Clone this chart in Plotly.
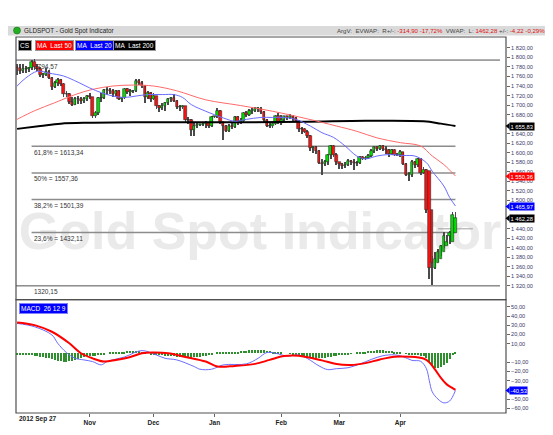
import plotly.graph_objects as go
import pandas as pd

# ---------------- data ----------------
dates = pd.bdate_range("2012-09-27", "2013-04-26")  # 152 sessions

opens = [1779,1777,1772,1776,1775,1777,1791,1781,1775,1764,1764,1769,1756,1737,1746,1752,1744,1724,1723,1707,
         1701,1712,1712,1708,1712,1719,1716,1676,1684,1715,1715,1731,1731,1730,1724,1730,1713,1714,1733,1727,
         1729,1729,1751,1746,1741,1716,1726,1713,1719,1697,1694,1699,1704,1712,1715,1708,1696,1696,1697,1669,
         1668,1647,1657,1659,1659,1661,1662,1656,1675,1676,1688,1664,1656,1646,1656,1654,1675,1662,1667,1683,
         1680,1688,1688,1692,1692,1685,1668,1656,1656,1661,1678,1662,1668,1676,1673,1677,1672,1667,1649,1649,
         1644,1635,1609,1611,1603,1578,1577,1581,1595,1614,1596,1580,1576,1573,1575,1583,1580,1578,1578,1591,
         1587,1589,1592,1604,1612,1608,1614,1607,1605,1597,1605,1596,1595,1601,1576,1554,1554,1580,1574,1586,
         1557,1564,1561,1480,1358,1368,1377,1392,1403,1424,1412,1431]
highs = [1787,1786,1786,1782,1781,1795,1796,1786,1779,1768,1777,1774,1758,1750,1756,1755,1746,1729,1726,1718,
         1718,1719,1716,1716,1722,1726,1717,1688,1718,1725,1733,1739,1736,1733,1731,1731,1716,1736,1736,1734,
         1732,1754,1755,1751,1743,1729,1728,1726,1720,1700,1704,1707,1714,1718,1724,1711,1700,1700,1699,1675,
         1670,1662,1663,1661,1665,1667,1664,1677,1678,1694,1690,1665,1658,1660,1662,1678,1678,1673,1685,1687,
         1692,1693,1695,1696,1695,1687,1671,1662,1664,1680,1683,1680,1678,1678,1681,1680,1674,1668,1654,1651,
         1647,1638,1615,1614,1605,1586,1585,1598,1616,1616,1600,1581,1578,1580,1586,1585,1586,1582,1592,1594,
         1593,1598,1608,1614,1614,1616,1617,1613,1607,1608,1607,1599,1606,1602,1578,1560,1584,1583,1588,1589,
         1569,1566,1495,1383,1392,1397,1407,1434,1428,1435,1476,1476]
lows = [1763,1766,1768,1768,1769,1773,1773,1771,1759,1757,1761,1754,1732,1735,1741,1740,1717,1716,1702,1698,
        1700,1702,1703,1705,1708,1712,1672,1672,1680,1707,1713,1722,1724,1718,1720,1711,1707,1713,1723,1720,
        1726,1727,1742,1736,1705,1712,1707,1710,1692,1685,1690,1688,1700,1706,1706,1692,1688,1692,1665,1660,
        1636,1636,1652,1656,1655,1652,1652,1654,1673,1672,1660,1626,1643,1644,1650,1652,1658,1660,1664,1675,
        1677,1682,1685,1686,1681,1665,1653,1651,1652,1659,1660,1658,1664,1669,1670,1667,1664,1644,1640,1641,
        1630,1603,1599,1597,1577,1554,1572,1575,1586,1590,1575,1565,1565,1568,1572,1574,1563,1573,1577,1584,
        1584,1586,1590,1600,1604,1605,1604,1598,1591,1595,1592,1594,1591,1574,1550,1540,1548,1567,1570,1553,
        1555,1473,1335,1321,1355,1370,1382,1399,1405,1408,1426,1455]
closes = [1777,1772,1776,1775,1777,1791,1781,1775,1764,1764,1769,1756,1737,1746,1752,1744,1724,1723,1707,1701,
          1712,1712,1708,1712,1719,1716,1676,1684,1715,1715,1731,1731,1730,1724,1730,1713,1714,1733,1727,1729,
          1729,1751,1746,1741,1716,1726,1713,1719,1697,1694,1699,1704,1712,1715,1708,1696,1696,1697,1669,1668,
          1647,1657,1659,1659,1661,1662,1656,1675,1676,1688,1664,1656,1646,1656,1654,1675,1662,1667,1683,1680,
          1688,1688,1692,1692,1685,1668,1656,1656,1661,1678,1662,1668,1676,1673,1677,1672,1667,1649,1649,1644,
          1635,1609,1611,1603,1578,1577,1581,1595,1614,1596,1580,1576,1573,1575,1583,1580,1578,1578,1591,1587,
          1589,1592,1604,1612,1608,1614,1607,1605,1597,1605,1596,1595,1601,1576,1554,1554,1580,1574,1586,1557,
          1564,1480,1358,1368,1377,1392,1403,1424,1412,1431,1470,1462.28]

ma20_dates = ["2012-09-27","2012-10-02","2012-10-08","2012-10-12","2012-10-19","2012-10-26","2012-11-01",
              "2012-11-07","2012-11-13","2012-11-19","2012-11-23","2012-11-29","2012-12-06","2012-12-12",
              "2012-12-17","2012-12-20","2012-12-27","2013-01-04","2013-01-10","2013-01-16","2013-01-23",
              "2013-01-29","2013-02-04","2013-02-08","2013-02-15","2013-02-21","2013-02-27","2013-03-05",
              "2013-03-11","2013-03-14","2013-03-20","2013-03-26","2013-04-02","2013-04-08","2013-04-12",
              "2013-04-16","2013-04-22","2013-04-24","2013-04-26"]
ma20_vals = [1740,1757,1771,1767,1761,1748,1736,1726,1719,1716,1719,1722,1722,1722,1716,1701,1687,1673,1666,
             1670,1674,1674,1674,1670,1656,1642,1632,1614,1593,1587,1593,1596,1594,1593,1579,1561,1530,1506,1488]

ma50_dates = ["2012-09-27","2012-10-05","2012-10-16","2012-10-25","2012-11-02","2012-11-13","2012-11-22",
              "2012-12-03","2012-12-13","2012-12-27","2013-01-14","2013-01-29","2013-02-14","2013-02-28",
              "2013-03-11","2013-03-20","2013-04-01","2013-04-10","2013-04-16","2013-04-22","2013-04-26"]
ma50_vals = [1670,1688,1705,1722,1733,1740,1742,1740,1730,1711,1699,1687,1671,1656,1645,1631,1621,1614,
             1593,1575,1551]

ma200_dates = ["2012-09-27","2012-10-09","2012-10-18","2012-11-01","2012-11-22","2012-12-20","2013-01-17",
               "2013-02-14","2013-03-14","2013-04-11","2013-04-19","2013-04-26"]
ma200_vals = [1650,1656,1661,1663,1664,1664,1664,1665,1667,1666,1661,1656]

macd_dates = ["2012-09-27","2012-10-05","2012-10-15","2012-10-17","2012-10-22","2012-10-25","2012-10-30",
              "2012-11-02","2012-11-07","2012-11-09","2012-11-19","2012-11-27","2012-12-04","2012-12-07",
              "2012-12-13","2012-12-21","2012-12-25","2012-12-31","2013-01-04","2013-01-16","2013-01-22",
              "2013-01-25","2013-01-30","2013-02-05","2013-02-11","2013-02-14","2013-02-20","2013-02-25",
              "2013-02-28","2013-03-06","2013-03-12","2013-03-18","2013-03-22","2013-03-28","2013-04-02",
              "2013-04-05","2013-04-10","2013-04-12","2013-04-15","2013-04-16","2013-04-18","2013-04-22",
              "2013-04-24","2013-04-26"]
macd_vals = [32.0,28.4,19.5,10.5,0.4,-5.8,-7.5,-9.3,-12.9,-9.3,-4.3,2.6,-2.2,-5.8,-7.5,-14.7,-17.6,-17.6,
             -12.9,-11.8,-5.8,0.4,-0.3,-3.3,-2.2,-6,-14,-18,-17,-16,-12,-7,-3,-2,-4,-8,-9,-17,-30,-42,-50,
             -54,-52,-40.53]

sig_dates = ["2012-09-27","2012-10-05","2012-10-15","2012-10-23","2012-10-29","2012-11-02","2012-11-08",
             "2012-11-14","2012-11-21","2012-11-27","2012-12-03","2012-12-10","2012-12-18","2012-12-27",
             "2013-01-02","2013-01-10","2013-01-21","2013-01-28","2013-02-04","2013-02-11","2013-02-21",
             "2013-02-28","2013-03-07","2013-03-14","2013-03-21","2013-03-28","2013-04-04","2013-04-11",
             "2013-04-15","2013-04-17","2013-04-19","2013-04-23","2013-04-25","2013-04-26"]
sig_vals = [33.1,30.2,23.0,10.5,-0.3,-5.8,-9.3,-7.5,-4.3,-0.3,0.4,-0.3,-4.3,-9.3,-14.7,-14.0,-11.8,-7.5,
            -3.3,-3.0,-8,-12,-13,-11,-7,-4,-4,-6,-10,-18,-27,-34,-38,-40]

hist = [-1,-1.5,-1.5,-1.5,-2,-2, -2.5,-3,-3.5,-4,-4.5, -5,-6,-7,-8,-8,-9, -9,-8,-8,-7,-6,-5,
        -4,-3,-3,-3,-3,-2, -1,-1,0,1,1,1.5, 1.5,2,2,2.5,3,3, 3,3,2,1,0,-1, -1,-1.5,-2,-2,-2.5,-3,
        -3,-3,-3.5,-4,-4,-4, -4.5,-4.5,-4,-4,-3.5,-3, -3,-2,-1,0,1,1, 1,1.5,1.5,2,2,2,
        2.5,3,3,3.5,4,4, 4,4,3.5,3,2.5,2, 1.5,1,0.5,0,0,-0.5, -1,-1.5,-2,-2.5,-3,-3.5,
        -4,-5,-5,-5,-5,-4.5, -4,-3.5,-3,-2.5,-2,-2, -1.5,-1,-0.5,0,0.5,1, 1.5,2,2.5,3,3,3.5,
        3.5,3.5,3,3,2.5,2, 1.5,1,0,-0.5,-1,-1, -1.5,-2,-2.5,-3,-5,-9, -13,-16,-16,-15,-13,-10, -6,-2,1]

fib_levels = [1794.57, 1613.34, 1557.36, 1501.39, 1432.11, 1320.15]
fib_texts = ["1794,57", "61,8% = 1613,34", "50% = 1557,36", "38,2% = 1501,39", "23,6% = 1432,11", "1320,15"]

price_ticks = [1320, 1340, 1360, 1380, 1400, 1420, 1440, 1500, 1520, 1540, 1560, 1580, 1600,
               1620, 1640, 1680, 1700, 1720, 1740, 1760, 1780, 1800, 1820]
macd_ticks = [-60, -50, -30, -20, -10, 10, 20, 30, 40, 50]
month_ticks = ["2012-11-01", "2012-12-03", "2013-01-01", "2013-02-01", "2013-03-01", "2013-04-01"]
month_text = ["Nov", "Dec", "Jan", "Feb", "Mar", "Apr"]

last_close = 1462.28
last_ma20 = 1465.97
last_ma50 = 1550.36
last_ma200 = 1655.83
last_macd = -40.53

# ---------------- layout helpers (page pixels; page has an 8px body margin) ----------------
OFF = 8
FW, FH = 553 - OFF, 435 - OFF
L, R, T, B = 16, 506, 37, 415
SPLIT = 301


def px(x):
    return (x - L) / (R - L)


def py(y):
    return (B - y) / (B - T)


main_dom = [py(SPLIT), 1.0]
macd_dom = [0.0, py(SPLIT)]
main_rng = [1291.3, 1843.0]
macd_rng = [-65.0, 57.8]
x_rng = ["2012-09-26 15:00", "2013-05-21 10:00"]
rb = [dict(bounds=["sat", "mon"])]
FONT = "Liberation Sans"
DAY = 86400000

fig = go.Figure()

# candles drawn as wick bars + body bars
up = [c >= o for o, c in zip(opens, closes)]
body_base = [min(o, c) for o, c in zip(opens, closes)]
body_len = [max(abs(c - o), 0.9) for o, c in zip(opens, closes)]
wick_len = [h - l for h, l in zip(highs, lows)]
fig.add_trace(go.Bar(x=dates, y=wick_len, base=lows, width=DAY * 0.3,
                     marker=dict(color="#4a4a4a", line=dict(width=0)), xaxis="x", yaxis="y", hoverinfo="skip"))
fig.add_trace(go.Bar(x=dates, y=body_len, base=body_base, width=DAY * 0.86,
                     marker=dict(color=["#00e000" if u else "#ff1010" for u in up],
                                 line=dict(color="#2e2e2e", width=0.6)),
                     xaxis="x", yaxis="y", hoverinfo="skip"))

fig.add_trace(go.Scatter(x=ma200_dates, y=ma200_vals, mode="lines", line=dict(color="#000000", width=2, shape="spline"),
                         xaxis="x", yaxis="y", hoverinfo="skip"))
fig.add_trace(go.Scatter(x=ma50_dates, y=ma50_vals, mode="lines", line=dict(color="#ff6a6a", width=1, shape="spline"),
                         xaxis="x", yaxis="y", hoverinfo="skip"))
fig.add_trace(go.Scatter(x=ma20_dates, y=ma20_vals, mode="lines", line=dict(color="#6a6aff", width=1, shape="spline"),
                         xaxis="x", yaxis="y", hoverinfo="skip"))

fig.add_trace(go.Bar(x=dates, y=hist, marker=dict(color="#2f8f2f", line=dict(width=0)), width=DAY * 0.35,
                     xaxis="x2", yaxis="y2", hoverinfo="skip"))
fig.add_trace(go.Scatter(x=macd_dates, y=macd_vals, mode="lines", line=dict(color="#6b6bff", width=1, shape="spline"),
                         xaxis="x2", yaxis="y2", hoverinfo="skip"))
fig.add_trace(go.Scatter(x=sig_dates, y=sig_vals, mode="lines", line=dict(color="#ff0000", width=2, shape="spline"),
                         xaxis="x2", yaxis="y2", hoverinfo="skip"))

axis_common = dict(showgrid=False, zeroline=False)
fig.update_layout(
    width=FW, height=FH, margin=dict(l=L - OFF, r=553 - R, t=T - OFF, b=435 - B),
    paper_bgcolor="white", plot_bgcolor="white", showlegend=False,
    separators=", ", barmode="overlay", bargap=0,
    font=dict(family=FONT, size=6, color="#333"),
    xaxis=dict(domain=[0, 1], anchor="y", range=x_rng, rangebreaks=rb, showticklabels=False,
               ticks="", showline=False, **axis_common),
    yaxis=dict(domain=main_dom, anchor="x", side="right", range=main_rng, tickvals=price_ticks,
               tickformat=",.2f", ticks="outside", ticklen=3, tickcolor="#666",
               tickfont=dict(family=FONT, size=5.6, color="#3a3a66"), showline=False, **axis_common),
    xaxis2=dict(domain=[0, 1], anchor="y2", matches="x", range=x_rng, rangebreaks=rb,
                tickvals=month_ticks, ticktext=month_text, ticks="outside", ticklen=3, tickcolor="#666",
                tickfont=dict(family=FONT, size=6.5, color="#222", weight="bold"), showline=False, **axis_common),
    yaxis2=dict(domain=macd_dom, anchor="x2", side="right", range=macd_rng, tickvals=macd_ticks,
                tickformat=".2f", ticks="outside", ticklen=3, tickcolor="#666",
                tickfont=dict(family=FONT, size=5.6, color="#3a3a66"), showline=False, **axis_common),
)

shapes = []
annotations = []

# header bar
shapes.append(dict(type="rect", xref="paper", yref="paper", x0=px(8), x1=px(553), y0=py(35.5), y1=py(26),
                   fillcolor="#dadada", line=dict(width=0)))
shapes.append(dict(type="circle", xref="paper", yref="paper", x0=px(13.5), x1=px(20.5), y0=py(34), y1=py(27),
                   fillcolor="#22b022", line=dict(color="#106010", width=0.5)))
annotations.append(dict(xref="paper", yref="paper", x=px(22), y=py(30.8), xanchor="left", yanchor="middle",
                        text="GLDSPOT - Gold Spot Indicator", showarrow=False,
                        font=dict(family=FONT, size=6.3, color="#222")))
red = "#e01010"
hdr = ("ArgV:&nbsp;&nbsp;EVWAP:&nbsp;&nbsp;R+/-: <span style='color:%s'>-314,90 -17,72%%</span>"
       "&nbsp;&nbsp;VWAP:&nbsp;&nbsp;L: <span style='color:%s'>1462,28</span> +/-: "
       "<span style='color:%s'>-4,22 -0,29%%</span>") % (red, red, red)
annotations.append(dict(xref="paper", yref="paper", x=px(547), y=py(30.8), xanchor="right", yanchor="middle",
                        text=hdr, showarrow=False, font=dict(family=FONT, size=6.1, color="#444")))

# watermark (below traces)
shapes.append(dict(type="rect", xref="paper", yref="paper", x0=px(16), x1=px(504), y0=py(252), y1=py(202),
                   line=dict(width=0), fillcolor="rgba(0,0,0,0)", layer="below",
                   label=dict(text="Gold Spot Indicator", textposition="middle center",
                              font=dict(family=FONT, size=52, color="#eaeaea", weight="bold"))))

# fibonacci lines
for lvl, txt in zip(fib_levels, fib_texts):
    if lvl in (fib_levels[0], fib_levels[-1]):
        shapes.append(dict(type="line", xref="paper", yref="y", x0=0, x1=px(500), y0=lvl, y1=lvl,
                           line=dict(color="#505050", width=1), layer="below"))
    else:
        shapes.append(dict(type="line", xref="x", yref="y", x0="2012-10-04", x1="2013-04-26", y0=lvl, y1=lvl,
                           line=dict(color="#8c8c8c", width=1.5), layer="below"))
    annotations.append(dict(xref="paper", yref="y", x=px(32), y=lvl, xanchor="left", yanchor="top", yshift=-0.5,
                            text=txt, showarrow=False, font=dict(family=FONT, size=6.5, color="#333")))

shapes.append(dict(type="line", xref="x", yref="y", x0="2013-04-18", x1="2013-05-06", y0=1440, y1=1440,
                   line=dict(color="#a0a0a0", width=1), layer="below"))

# panel borders
shapes.append(dict(type="rect", xref="paper", yref="paper", x0=0, x1=1, y0=main_dom[0], y1=1,
                   line=dict(color="#505050", width=1.2)))
shapes.append(dict(type="rect", xref="paper", yref="paper", x0=0, x1=1, y0=0, y1=macd_dom[1],
                   line=dict(color="#505050", width=1.2)))

# legend boxes
for txt, col, xl in [("CS", "#000000", 18), ("MA&nbsp;&nbsp;Last 50", "#ff0000", 35),
                     ("MA&nbsp;&nbsp;Last 20", "#0000ff", 75), ("MA&nbsp;&nbsp;Last 200", "#000000", 113)]:
    annotations.append(dict(xref="paper", yref="paper", x=px(xl), y=py(46), xanchor="left", yanchor="middle",
                            text=txt, showarrow=False, bgcolor=col, bordercolor="#999", borderwidth=1,
                            borderpad=1, font=dict(family=FONT, size=6.5, color="white")))
annotations.append(dict(xref="paper", yref="paper", x=px(19), y=py(310), xanchor="left", yanchor="middle",
                        text="MACD&nbsp;&nbsp;26 12 9", showarrow=False, bgcolor="#0000ff", bordercolor="#8080ff",
                        borderwidth=1, borderpad=1, font=dict(family=FONT, size=6.5, color="white")))

# first date label
annotations.append(dict(xref="paper", yref="paper", x=px(17), y=py(421), xanchor="left", yanchor="middle",
                        text="<b>2012 Sep 27</b>", showarrow=False, font=dict(family=FONT, size=6.5, color="#222")))


# last-value tags on the right axis
def ypaper(v, dom, rng):
    return dom[0] + (v - rng[0]) / (rng[1] - rng[0]) * (dom[1] - dom[0])


def tag(v, text, col, dom, rng, yref, shift=0):
    annotations.append(dict(xref="paper", yref=yref, x=px(509), y=v, xanchor="left", yanchor="middle",
                            yshift=shift, text=text, showarrow=False, bgcolor=col, borderpad=0.5,
                            font=dict(family=FONT, size=5.8, color="white")))
    yc = ypaper(v, dom, rng) + shift / (B - T)
    d = 3.2 / (B - T)
    shapes.append(dict(type="path", xref="paper", yref="paper",
                       path="M %f,%f L %f,%f L %f,%f Z" % (px(505.5), yc, px(509.5), yc + d, px(509.5), yc - d),
                       fillcolor=col, line=dict(width=0)))


tag(last_ma200, "1 655,83", "#000000", main_dom, main_rng, "y")
tag(last_ma50, "1 550,36", "#ff0000", main_dom, main_rng, "y")
tag(last_ma20, "1 465,97", "#0000ff", main_dom, main_rng, "y", shift=10)
tag(last_close, "1 462,28", "#000000", main_dom, main_rng, "y")
tag(last_macd, "-40,53", "#0000ff", macd_dom, macd_rng, "y2")

fig.update_layout(shapes=shapes, annotations=annotations)
fig.write_html("out.html")
